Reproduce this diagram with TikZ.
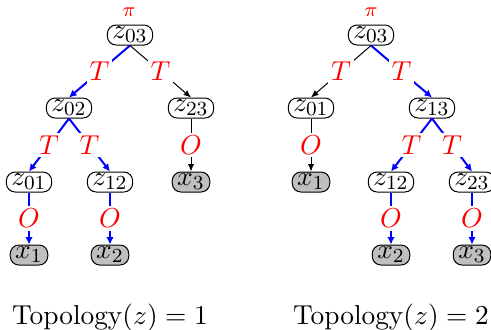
\documentclass[tikz,border=0pt,11pt]{standalone}
\usetikzlibrary{arrows.meta}
\begin{document}
\begin{tikzpicture}[x=0.4pt,y=-0.4pt,
  zn/.style={draw, rounded corners=3.5pt, inner xsep=2pt, inner ysep=0.8pt, minimum height=8pt},
  xn/.style={zn, fill=gray!50},
  lab/.style={text=red, fill=white, inner sep=1.2pt, midway},
  pilab/.style={text=red, inner sep=0pt, font=\scriptsize},
  bl/.style={draw=blue, line width=0.8pt, -{Latex[length=3pt,width=3pt]}},
  bk/.style={draw=black, line width=0.4pt, -{Latex[length=3pt,width=2.5pt]}},
  captext/.style={inner sep=0pt}]
\useasboundingbox (0,0) rectangle (491,329);
% left tree
\node[zn] (a03) at (130,35) {$z_{03}$};
\node[pilab] (api) at (129,12) {$\pi$};
\node[zn] (a02) at (69,108) {$z_{02}$};
\node[zn] (a23) at (191,108) {$z_{23}$};
\node[zn] (a01) at (29,182) {$z_{01}$};
\node[zn] (a12) at (110,182) {$z_{12}$};
\node[xn] (ax3) at (191,182) {$x_{3}$};
\node[xn] (ax1) at (29,255) {$x_{1}$};
\node[xn] (ax2) at (110,255) {$x_{2}$};
\draw[bl] (a03.south) -- node[lab] {$T$} (a02.north);
\draw[bk] (a03.south) -- node[lab] {$T$} (a23.north);
\draw[bl] (a02.south) -- node[lab] {$T$} (a01.north);
\draw[bl] (a02.south) -- node[lab] {$T$} (a12.north);
\draw[bk] (a23.south) -- node[lab] {$O$} (ax3.north);
\draw[bl] (a01.south) -- node[lab] {$O$} (ax1.north);
\draw[bl] (a12.south) -- node[lab] {$O$} (ax2.north);
\node[captext] (acap) at (110,318) {Topology$(z)=1$};
% right tree
\node[zn] (b03) at (371,35) {$z_{03}$};
\node[pilab] (bpi) at (371,12) {$\pi$};
\node[zn] (b01) at (311,108) {$z_{01}$};
\node[zn] (b13) at (432,108) {$z_{13}$};
\node[xn] (bx1) at (311,182) {$x_{1}$};
\node[zn] (b12) at (391,182) {$z_{12}$};
\node[zn] (b23) at (472,182) {$z_{23}$};
\node[xn] (bx2) at (391,255) {$x_{2}$};
\node[xn] (bx3) at (472,255) {$x_{3}$};
\draw[bk] (b03.south) -- node[lab] {$T$} (b01.north);
\draw[bl] (b03.south) -- node[lab] {$T$} (b13.north);
\draw[bk] (b01.south) -- node[lab] {$O$} (bx1.north);
\draw[bl] (b13.south) -- node[lab] {$T$} (b12.north);
\draw[bl] (b13.south) -- node[lab] {$T$} (b23.north);
\draw[bl] (b12.south) -- node[lab] {$O$} (bx2.north);
\draw[bl] (b23.south) -- node[lab] {$O$} (bx3.north);
\node[captext] (bcap) at (391,318) {Topology$(z)=2$};
\end{tikzpicture}
\end{document}
